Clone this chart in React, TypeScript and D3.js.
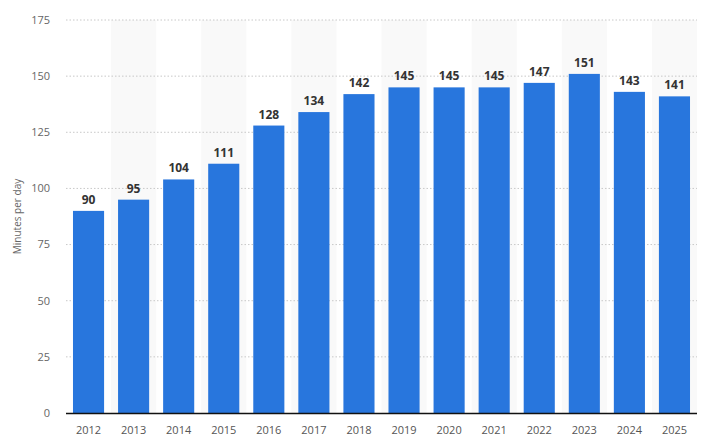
import React from "react";
import * as d3 from "d3";

const years = ["2012","2013","2014","2015","2016","2017","2018","2019","2020","2021","2022","2023","2024","2025"];
const minutes = [90, 95, 104, 111, 128, 134, 142, 145, 145, 145, 147, 151, 143, 141];
const yTicks = [0, 25, 50, 75, 100, 125, 150, 175];
const yTitle = "Minutes per day";

export default function App() {
  const W = 710, H = 443;
  const left = 66, right = 697, top = 20, bottom = 413;
  const x = d3.scaleBand<string>().domain(years).range([left, right]).padding(0);
  const y = d3.scaleLinear().domain([0, 175]).range([bottom, top]);
  const bw = x.bandwidth();
  const barW = bw * 0.69;
  const font = "'Open Sans', 'Noto Sans', sans-serif";
  return (
    <svg width={W} height={H} style={{ position: "absolute", left: 0, top: 0, display: "block" }} fontFamily={font}>
      <rect width={W} height={H} fill="#ffffff" />
      {years.map((yr, i) =>
        i % 2 === 1 ? (
          <rect key={"s" + yr} x={x(yr)} y={top} width={bw} height={bottom - top} fill="#f9f9f9" />
        ) : null
      )}
      {yTicks.map((t) => (
        <g key={"t" + t}>
          {t > 0 && (
            <line x1={left} x2={right} y1={y(t)} y2={y(t)} stroke="#c8c8c8" strokeWidth={1} strokeDasharray="1.5,2" />
          )}
          <text x={50} y={y(t)} dy="0.35em" textAnchor="end" fontSize={11} fill="#666">{t}</text>
        </g>
      ))}
      <text transform={`translate(21,${(top + bottom) / 2}) rotate(-90)`} textAnchor="middle" fontSize={10} fill="#666">{yTitle}</text>
      {years.map((yr, i) => {
        const cx = (x(yr) as number) + bw / 2;
        return (
          <g key={"b" + yr}>
            <rect x={cx - barW / 2} y={y(minutes[i])} width={barW} height={bottom - y(minutes[i])} fill="#2876dd" />
            <text x={cx} y={y(minutes[i]) - 7} textAnchor="middle" fontSize={12} fontWeight="bold" fill="#333">{minutes[i]}</text>
            <text x={cx} y={434} textAnchor="middle" fontSize={11} fill="#555">{yr}</text>
          </g>
        );
      })}
      <line x1={left} x2={right} y1={bottom + 0.5} y2={bottom + 0.5} stroke="#111" strokeWidth={1.3} />
    </svg>
  );
}
